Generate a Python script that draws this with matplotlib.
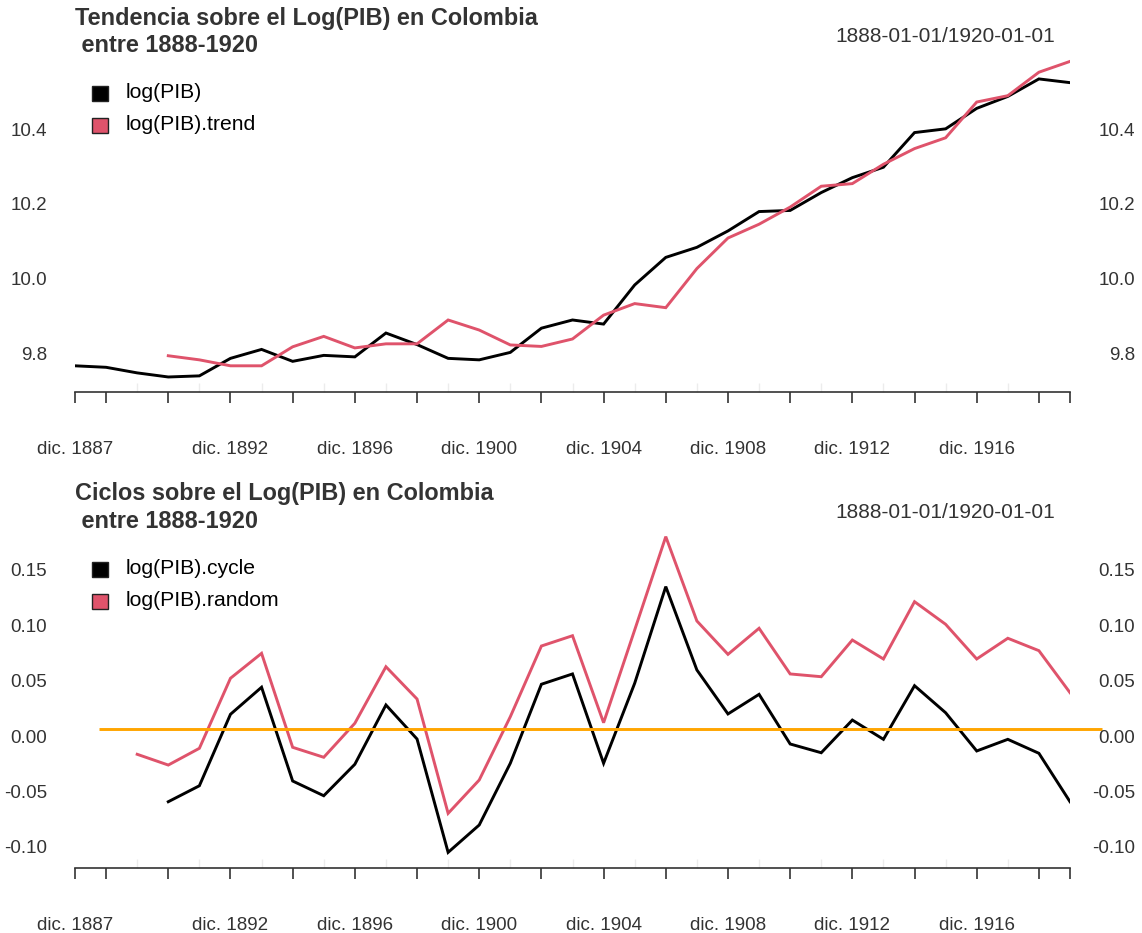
import numpy as np
from matplotlib import pyplot as plt
from matplotlib.patches import Rectangle

plt.rcParams['font.family'] = ['Liberation Sans', 'DejaVu Sans']

# datos (1888-1920, uno por año)
years = list(range(1888, 1921))
log_pib = [9.771, 9.767, 9.752, 9.741, 9.744, 9.791, 9.815, 9.783, 9.799, 9.795,
           9.859, 9.828, 9.791, 9.787, 9.807, 9.872, 9.894, 9.883, 9.988, 10.062,
           10.089, 10.133, 10.185, 10.188, 10.236, 10.276, 10.304, 10.397, 10.407,
           10.462, 10.494, 10.541, 10.531]
log_pib_trend = [np.nan, np.nan, np.nan,
                 9.798, 9.787, 9.771, 9.771, 9.822, 9.850, 9.819, 9.830, 9.830,
                 9.894, 9.867, 9.827, 9.823, 9.843, 9.907, 9.938, 9.927, 10.032,
                 10.114, 10.151, 10.197, 10.253, 10.260, 10.312, 10.354, 10.383,
                 10.479, 10.496, 10.559, 10.588]
log_pib_cycle = [np.nan, np.nan, np.nan,
                 -0.0575, -0.0431, 0.0214, 0.0458, -0.0388, -0.0521, -0.0237,
                 0.0298, -0.0009, -0.1032, -0.0785, -0.0228, 0.0485, 0.0578,
                 -0.0228, 0.0494, 0.1366, 0.0614, 0.0217, 0.0394, -0.0054,
                 -0.0133, 0.0162, -0.0012, 0.0472, 0.0228, -0.0117, -0.0012,
                 -0.0138, -0.0575]
log_pib_random = [np.nan, np.nan,
                  -0.0147, -0.0244, -0.0093, 0.0539, 0.0764, -0.0084, -0.0174,
                  0.0133, 0.0643, 0.0352, -0.0680, -0.0379, 0.0192, 0.0830,
                  0.0923, 0.0138, 0.0975, 0.1817, 0.1056, 0.0755, 0.0990, 0.0578,
                  0.0553, 0.0884, 0.0713, 0.1230, 0.1026, 0.0713, 0.0900, 0.0788,
                  0.0409]
nivel_ciclo = 0.0081

yticks_top = [9.8, 10.0, 10.2, 10.4]
yticks_bot = [-0.10, -0.05, 0.00, 0.05, 0.10, 0.15]
major_idx = [0, 1] + list(range(3, 32, 2)) + [32]
label_idx = [0, 5, 9, 13, 17, 21, 25, 29]

ROJO = '#DF536B'
GRIS = '#333333'
W, H = 1142, 933


def fx(px):
    return px / W


def fy(py):
    return 1 - py / H


def panel(top, bottom, ylim, yticks, fmt, series, titulo, nombres):
    ax = fig.add_axes([fx(75), fy(bottom), fx(1070) - fx(75), fy(top) - fy(bottom)])
    x = np.arange(len(years))
    for serie, color in series:
        ax.plot(x, serie, color=color, lw=2.1, solid_joinstyle='miter')
    ax.set_xlim(0, len(years) - 1)
    ax.set_ylim(*ylim)
    for s in ['top', 'left', 'right']:
        ax.spines[s].set_visible(False)
    ax.spines['bottom'].set_color(GRIS)
    ax.spines['bottom'].set_linewidth(1.2)
    # eje x
    ax.set_xticks(major_idx)
    etiquetas = []
    for i in major_idx:
        etiquetas.append('dic. %d' % (years[i] - 1) if i in label_idx else '')
    ax.set_xticklabels(etiquetas, fontsize=13.5, color=GRIS)
    ax.set_xticks(x, minor=True)
    ax.tick_params(axis='x', which='major', direction='out', length=8, width=1.2,
                   color=GRIS, pad=27)
    ax.tick_params(axis='x', which='minor', direction='in', length=6.5, width=1,
                   color='#ececec')
    # eje y: etiquetas a ambos lados
    ax.set_yticks([])
    for v in yticks:
        ax.text(-28 / 995, v, fmt % v, transform=ax.get_yaxis_transform(),
                ha='right', va='center', fontsize=13.5, color=GRIS)
        ax.text(1 + 65 / 995, v, fmt % v, transform=ax.get_yaxis_transform(),
                ha='right', va='center', fontsize=13.5, color=GRIS)
    # titulo y rango
    fig.text(fx(75), fy(top - 30), titulo[0], fontsize=16.9, fontweight='bold',
             color=GRIS, va='center', ha='left')
    fig.text(fx(75), fy(top - 2), titulo[1], fontsize=16.9, fontweight='bold',
             color=GRIS, va='center', ha='left')
    fig.text(fx(1055), fy(top - 11), '1888-01-01/1920-01-01', fontsize=15,
             color=GRIS, va='center', ha='right')
    # leyenda
    for k, (nombre, (_, color)) in enumerate(zip(nombres, series)):
        yc = top + 45 + 32 * k
        fig.patches.append(Rectangle((fx(92), fy(yc + 7.5)), fx(16), 15 / H,
                                     facecolor=color, edgecolor='#222222', lw=1,
                                     transform=fig.transFigure))
        fig.text(fx(126), fy(yc), nombre, fontsize=15.2, color='black',
                 va='center', ha='left')
    return ax


fig = plt.figure(figsize=(11.42, 9.33), dpi=100)

panel(48, 392, (9.7007, 10.624), yticks_top, '%.1f',
      [(log_pib, 'black'), (log_pib_trend, ROJO)],
      ['Tendencia sobre el Log(PIB) en Colombia', ' entre 1888-1920'],
      ['log(PIB)', 'log(PIB).trend'])

ax2 = panel(524, 868, (-0.1173, 0.1931), yticks_bot, '%.2f',
            [(log_pib_cycle, 'black'), (log_pib_random, ROJO)],
            ['Ciclos sobre el Log(PIB) en Colombia', ' entre 1888-1920'],
            ['log(PIB).cycle', 'log(PIB).random'])
ax2.hlines(nivel_ciclo, 0.77, 33.02, color='orange', lw=2.1, clip_on=False)

plt.savefig('out.png', dpi=100)
